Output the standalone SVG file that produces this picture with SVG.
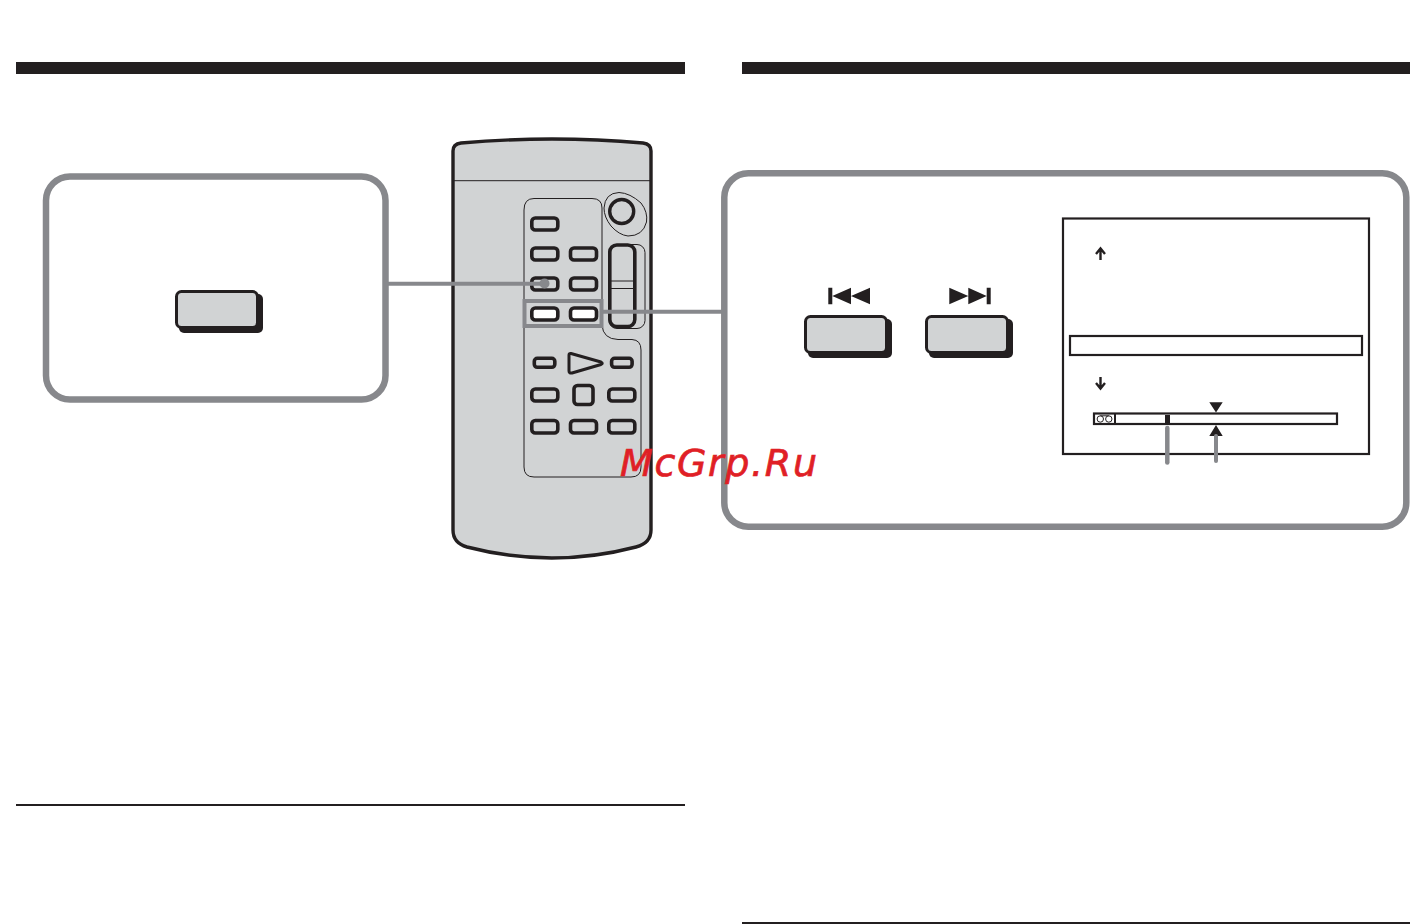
<svg xmlns="http://www.w3.org/2000/svg" width="1424" height="924" viewBox="0 0 1424 924">
<style>
.panel{fill:#fff;stroke:#87888c;stroke-width:6.5}
.conn{fill:none;stroke:#87888c;stroke-width:4}
.k{fill:#231f20}
.btn{fill:#d1d3d4;stroke:#231f20;stroke-width:3.6}
.wbtn{fill:#fff;stroke:#231f20;stroke-width:3.6}
.thin{fill:none;stroke:#231f20;stroke-width:1}
.big{fill:#d1d3d4;stroke:#231f20;stroke-width:3}
.scr{fill:#fff;stroke:#231f20;stroke-width:2.2}
.pt{fill:none;stroke:#87888c;stroke-linecap:round}
.ar{fill:none;stroke:#231f20;stroke-width:2.4}
</style>
<rect width="1424" height="924" fill="#fff"/>
<g id="headers">
<rect class="k" x="16" y="62" width="669" height="12"/>
<rect class="k" x="742" y="62" width="668" height="12"/>
<rect class="k" x="16" y="804" width="669" height="2"/>
<rect class="k" x="742" y="922" width="668" height="2"/>
</g>
<g id="remote">
<path d="M453 151Q453 144 461 143Q552 135 643 143Q651 144 651 151V530Q651 543 636 547Q552 569 467 547Q453 543 453 530Z" fill="#d1d3d4" stroke="#231f20" stroke-width="3.4"/>
<path d="M454 180.7H650" class="thin" stroke-width="1.2"/>
<path class="thin" d="M524 210Q524 198.5 534 198.5H592Q602 198.5 602 208V325Q603 339 618 339.5H632Q641 340 641 350V467Q641 477 631 477H534Q524 477 524 467Z"/>
<path class="thin" d="M604 208Q605 193 619 192.5Q630 193 641 203Q648 212 646.5 222Q643 236 628 236Q619 235 611 226Q604 217 604 208Z"/>
<circle cx="621.7" cy="211.5" r="12" fill="#d1d3d4" stroke="#231f20" stroke-width="3.4"/>
<rect class="thin" x="609" y="244.5" width="36" height="84" rx="8"/>
<rect x="609.8" y="245" width="25" height="81.5" rx="7" fill="#d1d3d4" stroke="#231f20" stroke-width="3.6"/>
<path class="thin" d="M610 281H634M610 288.5H634"/>
<rect class="btn" x="531.8" y="218" width="26" height="12" rx="3.5"/>
<rect class="btn" x="531.8" y="248" width="26" height="12" rx="3.5"/>
<rect class="btn" x="570.5" y="248" width="26" height="12" rx="3.5"/>
<rect class="btn" x="531.8" y="278" width="26" height="12" rx="3.5"/>
<rect class="btn" x="570.5" y="278" width="26" height="12" rx="3.5"/>
<rect class="wbtn" x="531.8" y="308" width="26" height="12" rx="3.5"/>
<rect class="wbtn" x="570.5" y="308" width="26" height="12" rx="3.5"/>
<rect class="btn" x="534.3" y="358.3" width="20.5" height="9" rx="3" stroke-width="3"/>
<rect class="btn" x="611.6" y="358.3" width="20.5" height="9" rx="3" stroke-width="3"/>
<path d="M569 355Q569 353 571 353.5L601 362Q603.5 363.3 601 364.5L572 373Q569 373.5 569 371Z" fill="#d1d3d4" stroke="#231f20" stroke-width="3" stroke-linejoin="round"/>
<rect class="btn" x="531.8" y="389" width="26" height="12" rx="3.5"/>
<rect class="btn" x="608.8" y="389" width="26" height="12" rx="3.5"/>
<rect class="btn" x="574" y="385.5" width="19" height="19" rx="3.5"/>
<rect class="btn" x="531.8" y="420.5" width="26" height="12.5" rx="3.5"/>
<rect class="btn" x="570.5" y="420.5" width="26" height="12.5" rx="3.5"/>
<rect class="btn" x="608.8" y="420.5" width="26" height="12.5" rx="3.5"/>
</g>
<g id="connectors">
<path class="conn" d="M388 283.7H545"/>
<circle cx="544.5" cy="283.5" r="5" fill="#87888c"/>
<rect class="conn" x="524.5" y="301" width="77" height="25"/>
<path class="conn" d="M602 311.7H723"/>
</g>
<g id="left-panel">
<rect class="panel" x="46" y="176.5" width="339.5" height="223" rx="24"/>
<rect class="k" x="179" y="294" width="84" height="39" rx="5"/>
<rect class="big" x="176.5" y="291.5" width="81" height="36" rx="5"/>
</g>
<g id="right-panel">
<rect class="panel" x="724.3" y="173.3" width="682" height="353.4" rx="24"/>
</g>
<g id="prev-button">
<path class="k" d="M828.3 287.7h4v16.6h-4zM832.3 296L851 287.7V304.3ZM851 296L870 287.7V304.3Z"/>
<rect class="k" x="808" y="319" width="84" height="39" rx="5"/>
<rect class="big" x="805.5" y="316.5" width="81" height="36" rx="5"/>
</g>
<g id="next-button">
<path class="k" d="M949.3 287.7L968.3 296L949.3 304.3ZM968.3 287.7L986.7 296L968.3 304.3ZM986.7 287.7h4v16.6h-4z"/>
<rect class="k" x="929" y="319" width="84" height="39" rx="5"/>
<rect class="big" x="926.5" y="316.5" width="81" height="36" rx="5"/>
</g>
<g id="screen">
<rect class="scr" x="1063" y="218.5" width="306" height="235.5"/>
<rect class="scr" x="1070" y="336" width="292" height="19"/>
<path class="ar" d="M1100.5 260V249M1096 254L1100.5 248.5L1105 254"/>
<path class="ar" d="M1100.5 377V388M1096 383L1100.5 388.5L1105 383"/>
<rect class="scr" x="1094" y="413.5" width="243" height="10.5"/>
<path d="M1115 413V424" fill="none" stroke="#231f20" stroke-width="2"/>
<circle class="thin" cx="1100.3" cy="419" r="3.2"/>
<circle class="thin" cx="1108.8" cy="419" r="3.2"/>
<path class="thin" d="M1100.3 415.8H1108.8"/>
<rect class="k" x="1165" y="415" width="5" height="8"/>
<path class="k" d="M1209.3 402.3H1222.7L1216 412.5ZM1209.3 436H1222.7L1216 425Z"/>
<path class="pt" stroke-width="4.5" d="M1167.3 428V462.5"/>
<path class="pt" stroke-width="4" d="M1216 436V461"/>
</g>
<text id="watermark" x="620" y="476" font-family="'DejaVu Sans',sans-serif" font-style="italic" font-size="38" fill="#e01f26" stroke="#e01f26" stroke-width="0.7" textLength="197" lengthAdjust="spacing">McGrp.Ru</text>
</svg>
